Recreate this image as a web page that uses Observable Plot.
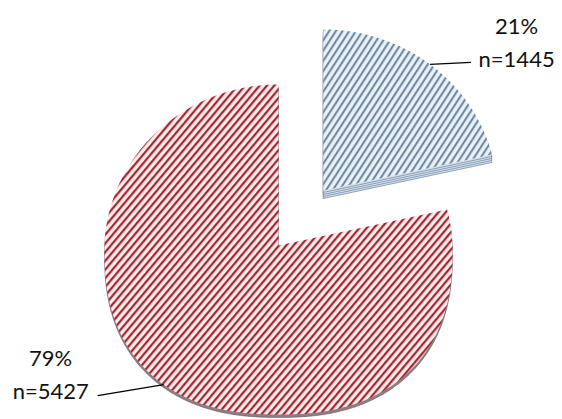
<!DOCTYPE html>
<html>
<head>
<meta charset="utf-8">
<script src="https://cdn.jsdelivr.net/npm/d3@7"></script>
<script src="https://cdn.jsdelivr.net/npm/@observablehq/plot@0.6"></script>
<style>
  html, body { margin: 0; padding: 0; background: #fff; }
  #chart { width: 562px; height: 419px; overflow: hidden; }
</style>
</head>
<body>
<div id="chart"></div>
<script>
// ---- data ----
const groups = ["group 1", "group 2"];
const counts = [1445, 5427];
const percentLabels = ["21%", "79%"];
const countLabels = ["n=1445", "n=5427"];
const exploded = [true, false];

// ---- layout ----
const W = 562, H = 419;
const CX = 278, CY = 250;            // centre of the (tilted) pie outline
const RX = 174, RY_TOP = 166, RY_BOT = 164, BOT_EXP = 2 / 2.35;
const APEX_LIFT = 5;                  // perspective: apex sits a bit above outline centre
const EXPLODE = 0.42;                 // explode distance (unit radius)
const LEADER_END = [[41, -2], [-66, 11]];
const TEXT_OFF = [[45.5, -22], [-47, -24]];
const sideLayers = [[8, 6, 4, 2], [3]];
const sideFill = ["#d3e0ec", "#8e7e80"];
const sideStroke = ["#7890aa", "#5e4f52"];

const pie = d3.pie().sort(null).value(d => d.count)(
  groups.map((g, i) => ({group: g, count: counts[i], i}))
);

function unitPoint(t) {
  const s = Math.sin(t), c = Math.cos(t);
  if (c >= 0) return [RX * s, -RY_TOP * c];
  return [RX * Math.sign(s) * Math.pow(Math.abs(s), BOT_EXP),
          RY_BOT * Math.pow(Math.abs(c), BOT_EXP)];
}

const polys = [], labels = [];
pie.forEach(p => {
  const i = p.data.i;
  const mid = (p.startAngle + p.endAngle) / 2;
  const ox = exploded[i] ? EXPLODE * RX * Math.sin(mid) : 0;
  const oy = exploded[i] ? -EXPLODE * RY_TOP * Math.cos(mid) : 0;
  const ax = CX + ox, ay = CY - APEX_LIFT + oy;
  const pts = [{i, x: ax, y: ay}];
  const n = Math.ceil((p.endAngle - p.startAngle) / (Math.PI / 360));
  for (let k = 0; k <= n; k++) {
    const t = p.startAngle + (p.endAngle - p.startAngle) * k / n;
    const [ux, uy] = unitPoint(t);
    pts.push({i, x: CX + ox + ux, y: CY + oy + uy});
  }
  pts.push({i, x: ax, y: ay});
  polys[i] = pts;
  const [mx, my] = unitPoint(mid);
  const x1 = CX + ox + mx, y1 = CY + oy + my;
  const x2 = x1 + LEADER_END[i][0], y2 = y1 + LEADER_END[i][1];
  labels.push({
    i, x1, y1, x2, y2,
    tx: x2 + TEXT_OFF[i][0], ty: y2 + TEXT_OFF[i][1],
    text: percentLabels[i] + "\n" + countLabels[i]
  });
});

const marks = [];
[1, 0].forEach(i => {
  sideLayers[i].forEach(d => {
    marks.push(Plot.line(polys[i], {x: "x", y: "y", dy: d, fill: sideFill[i],
      stroke: sideStroke[i], strokeWidth: i === 0 ? 0.8 : 0.5, curve: "linear"}));
  });
  marks.push(Plot.line(polys[i], {x: "x", y: "y", fill: `url(#hatch${i})`,
    stroke: "none", curve: "linear"}));
});
marks.push(Plot.link(labels, {x1: "x1", y1: "y1", x2: "x2", y2: "y2",
  stroke: "#000", strokeWidth: 1.3}));
marks.push(Plot.text(labels, {x: "tx", y: "ty", text: "text", lineAnchor: "middle",
  textAnchor: "middle", lineHeight: 1.5, fontSize: 22, fill: "#111"}));

const svg = Plot.plot({
  width: W, height: H,
  margin: 0,
  x: {type: "identity", axis: null},
  y: {type: "identity", axis: null},
  style: {fontFamily: "Lato, 'Open Sans', sans-serif", background: "#fff"},
  marks
});

svg.insertAdjacentHTML("afterbegin", `
<defs>
  <pattern id="hatch0" patternUnits="userSpaceOnUse" width="5.6" height="8" patternTransform="rotate(33)">
    <rect width="5.6" height="8" fill="#eaf2f8"/>
    <rect x="0" width="2.3" height="8" fill="#9db3c8"/>
    <rect x="0.5" width="1.3" height="8" fill="#5f7a94"/>
  </pattern>
  <pattern id="hatch1" patternUnits="userSpaceOnUse" width="5.6" height="8" patternTransform="rotate(40)">
    <rect width="5.6" height="8" fill="#faeee8"/>
    <rect x="0" width="2.4" height="8" fill="#d0485c"/>
    <rect x="0.6" width="1.2" height="8" fill="#8a1a2c"/>
  </pattern>
</defs>`);

document.getElementById("chart").append(svg);
</script>
</body>
</html>
